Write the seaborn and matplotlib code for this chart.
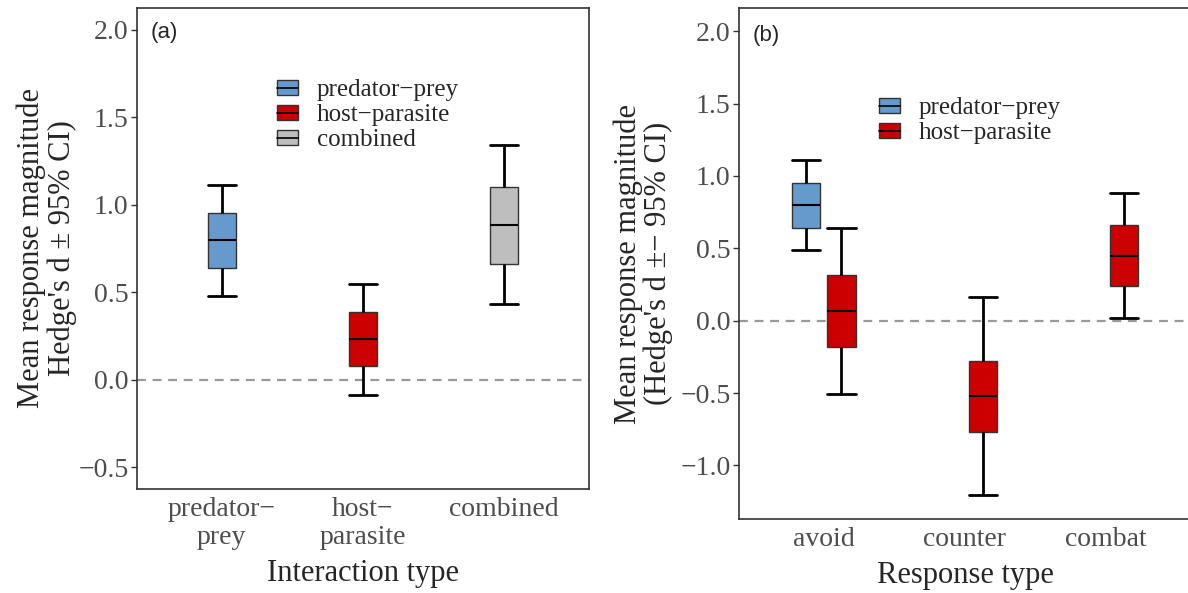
import pandas as pd
import seaborn as sns
import matplotlib.pyplot as plt
from matplotlib.patches import Patch
from matplotlib.lines import Line2D
from matplotlib.legend_handler import HandlerTuple

# panel (a): effect size by interaction type (ci low, q1, median, q3, ci high)
interaccion = ["predator−prey", "host−parasite", "combined"]
a_ci_low = [0.48, -0.085, 0.435]
a_q1 = [0.64, 0.077, 0.663]
a_mediana = [0.80, 0.232, 0.884]
a_q3 = [0.951, 0.385, 1.104]
a_ci_high = [1.111, 0.548, 1.339]
etiquetas_a = ["predator−\nprey", "host−\nparasite", "combined"]

# panel (b): effect size by response type
respuesta = ["avoid", "avoid", "counter", "combat"]
grupo_b = ["predator−prey", "host−parasite", "host−parasite", "host−parasite"]
b_ci_low = [0.485, -0.505, -1.204, 0.018]
b_q1 = [0.643, -0.181, -0.766, 0.242]
b_mediana = [0.798, 0.067, -0.52, 0.45]
b_q3 = [0.951, 0.316, -0.277, 0.658]
b_ci_high = [1.113, 0.643, 0.163, 0.883]
orden_b = ["avoid", "counter", "combat"]

colores = {"predator−prey": "#6699CC", "host−parasite": "#CC0000", "combined": "#BEBEBE"}

def a_largo(cats, grupos, bajo, q1, med, q3, alto):
    # cinco valores por grupo -> el boxplot con whis=(0,100) reproduce los cuantiles exactos
    filas = []
    for i in range(len(cats)):
        for v in (bajo[i], q1[i], med[i], q3[i], alto[i]):
            filas.append({"cat": cats[i], "grupo": grupos[i], "valor": v})
    return pd.DataFrame(filas)

df_a = a_largo(interaccion, interaccion, a_ci_low, a_q1, a_mediana, a_q3, a_ci_high)
df_b = a_largo(respuesta, grupo_b, b_ci_low, b_q1, b_mediana, b_q3, b_ci_high)

sns.set_style("white")
plt.rcParams['font.family'] = ['Liberation Serif', 'DejaVu Serif']

fig = plt.figure(figsize=(11.88, 5.93), dpi=100)
ax_a = fig.add_axes([137 / 1188, 1 - 489 / 593, 452 / 1188, 481 / 593])
ax_b = fig.add_axes([739 / 1188, 1 - 519 / 593, 452 / 1188, 511 / 593])

estilo = dict(whis=(0, 100), linecolor="#333333", linewidth=1, fliersize=0,
              whiskerprops=dict(color="black", linewidth=2),
              capprops=dict(color="black", linewidth=2),
              medianprops=dict(color="black", linewidth=1.5),
              capwidths=0.2, legend=False)

sns.boxplot(data=df_a, x="cat", y="valor", hue="grupo", order=interaccion,
            hue_order=interaccion, palette=colores, width=0.2, dodge=False,
            saturation=1, ax=ax_a, **estilo)
sns.boxplot(data=df_b, x="cat", y="valor", hue="grupo", order=orden_b,
            hue_order=["predator−prey", "host−parasite"], palette=colores,
            width=0.5, gap=0.2, dodge=True, saturation=1, ax=ax_b, **estilo)

for ax in (ax_a, ax_b):
    ax.axhline(0, color="#999999", linestyle=(0, (4, 3)), linewidth=1.6, zorder=0)
    ax.set_xlim(-0.6, 2.6)
    ax.set_yticks([-1.0, -0.5, 0.0, 0.5, 1.0, 1.5, 2.0])
    ax.tick_params(axis="y", length=4, width=1, color="#333333", labelsize=20,
                   labelcolor="#4D4D4D", pad=2, left=True)
    ax.tick_params(axis="x", length=0, labelsize=20, labelcolor="#4D4D4D", pad=6)
    for s in ax.spines.values():
        s.set_color("#333333")
        s.set_linewidth(1.2)
    ax.yaxis.set_major_formatter(plt.FuncFormatter(lambda v, p: f"{v:.1f}".replace("-", "−")))

# el panel (b) queda cortado por la derecha
ax_b.spines["right"].set_visible(False)

ax_a.set_ylim(-0.625, 2.125)
ax_b.set_ylim(-1.37, 2.16)

ax_a.set_xticks(range(3))
ax_a.set_xticklabels(etiquetas_a, linespacing=1.15)
ax_b.set_xticks(range(3))
ax_b.set_xticklabels(orden_b)

ax_a.set_xlabel("Interaction type", fontsize=22, labelpad=6)
ax_b.set_xlabel("Response type", fontsize=22, labelpad=6)
ax_a.set_ylabel("Mean response magnitude\nHedge's d ± 95% CI)", fontsize=22,
                linespacing=1.05, labelpad=1)
ax_b.set_ylabel("Mean response magnitude\n(Hedge's d ±− 95% CI)", fontsize=22,
                linespacing=1.05, labelpad=5)

ax_a.text(0.03, 0.97, "(a)", transform=ax_a.transAxes, fontsize=16,
          family="Liberation Sans", va="top", ha="left")
ax_b.text(0.03, 0.967, "(b)", transform=ax_b.transAxes, fontsize=16,
          family="Liberation Sans", va="top", ha="left")

def manijas(nombres):
    return [(Patch(facecolor=colores[n], edgecolor="#333333", linewidth=1),
             Line2D([], [], color="black", linewidth=1.2)) for n in nombres]

leyenda = dict(frameon=False, fontsize=18, handler_map={tuple: HandlerTuple(ndivide=1)},
               handlelength=0.85, handleheight=0.55, labelspacing=0.12,
               handletextpad=0.75, loc="upper left")
ax_a.legend(manijas(interaccion), interaccion, bbox_to_anchor=(0.26, 0.899), **leyenda)
ax_b.legend(manijas(["predator−prey", "host−parasite"]), ["predator−prey", "host−parasite"],
            bbox_to_anchor=(0.26, 0.87), **leyenda)

plt.savefig("out.png", dpi=100)
